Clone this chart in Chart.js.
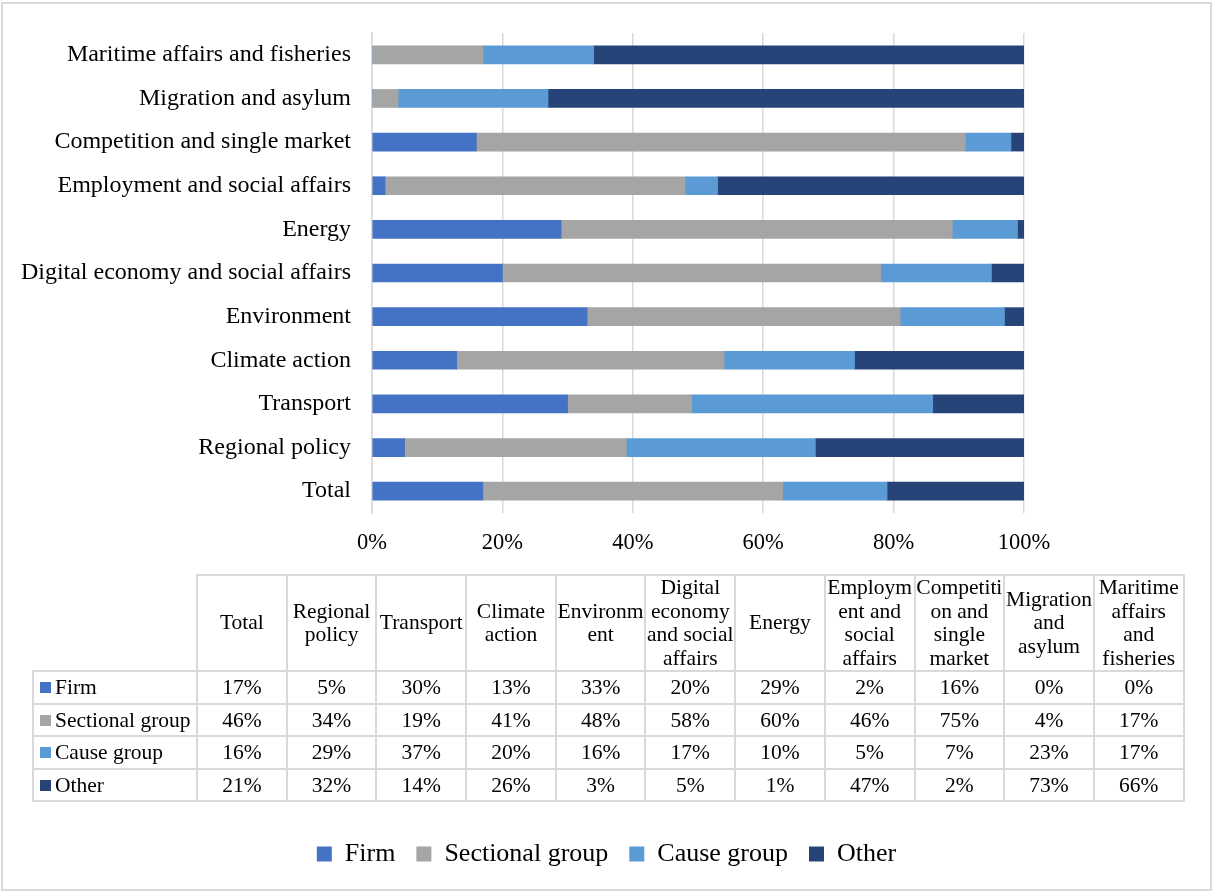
<!DOCTYPE html>
<html>
<head>
<meta charset="utf-8">
<title>Share of actor types by policy area</title>
<script src="https://cdn.jsdelivr.net/npm/chart.js@4.4.1/dist/chart.umd.min.js"></script>
<style>
  html, body { margin: 0; padding: 0; background: #fff; }
  #wrap { position: absolute; left: 0; top: 0; width: 1213px; height: 893px; }
  #frame { position: absolute; left: 1px; top: 2px; width: 1207px; height: 885px; border: 2px solid #d9d9d9; pointer-events: none; }
  #chart { position: absolute; left: 0; top: 0; }
  #tbl {
    position: absolute; left: 32px; top: 574px; width: 1151px;
    border-collapse: collapse; table-layout: fixed;
    font-family: "Liberation Serif", "Times New Roman", serif; font-size: 21.5px; color: #000;
  }
  #tbl th, #tbl td { border: 2px solid #d9d9d9; padding: 0; text-align: center; vertical-align: middle; font-weight: normal; }
  #tbl th { height: 94px; line-height: 23.5px; }
  #tbl td { height: 30.5px; line-height: 24px; }
  #tbl th.corner { border: none; }
  #tbl td.lab { text-align: left; padding-left: 6px; white-space: nowrap; }
  .sw { display: inline-block; width: 11px; height: 11px; margin-right: 4px; vertical-align: 1px; }
</style>
</head>
<body>
<div id="wrap">
  <canvas id="chart" width="1213" height="893"></canvas>
  <table id="tbl"></table>
  <div id="frame"></div>
</div>
<script>
// Policy areas, in table order (Total first; drawn bottom-up in the chart)
const categories = [
  'Total', 'Regional policy', 'Transport', 'Climate action', 'Environment',
  'Digital economy and social affairs', 'Energy', 'Employment and social affairs',
  'Competition and single market', 'Migration and asylum', 'Maritime affairs and fisheries'
];

// Column headings of the data table, wrapped as they are printed
const tableHeaders = [
  ['Total'], ['Regional', 'policy'], ['Transport'], ['Climate', 'action'],
  ['Environm', 'ent'], ['Digital', 'economy', 'and social', 'affairs'], ['Energy'],
  ['Employm', 'ent and', 'social', 'affairs'], ['Competiti', 'on and', 'single', 'market'],
  ['Migration', 'and', 'asylum'], ['Maritime', 'affairs', 'and', 'fisheries']
];

// Share of each actor type (%)
const firm       = [17,  5, 30, 13, 33, 20, 29,  2, 16,  0,  0];
const sectional  = [46, 34, 19, 41, 48, 58, 60, 46, 75,  4, 17];
const causeGroup = [16, 29, 37, 20, 16, 17, 10,  5,  7, 23, 17];
const other      = [21, 32, 14, 26,  3,  5,  1, 47,  2, 73, 66];

const seriesNames  = ['Firm', 'Sectional group', 'Cause group', 'Other'];
const seriesValues = [firm, sectional, causeGroup, other];
const seriesColors = ['#4472c4', '#a5a5a5', '#5b9bd5', '#264478'];

// Percentage ticks on the value axis
const xTicks = [0, 20, 40, 60, 80, 100];

const FONT = "'Liberation Serif', 'Times New Roman', serif";

// ---- data table ----
(function buildTable() {
  const tbl = document.getElementById('tbl');
  let html = '<colgroup><col style="width:164px">' +
    categories.map(() => '<col style="width:89.7px">').join('') + '</colgroup>';
  html += '<tr><th class="corner"></th>' +
    tableHeaders.map(lines => '<th>' + lines.join('<br>') + '</th>').join('') + '</tr>';
  seriesNames.forEach((name, i) => {
    html += '<tr><td class="lab"><span class="sw" style="background:' + seriesColors[i] + '"></span>' +
      name + '</td>' + seriesValues[i].map(v => '<td>' + v + '%</td>').join('') + '</tr>';
  });
  tbl.innerHTML = html;
})();

// ---- chart ----
new Chart(document.getElementById('chart'), {
  type: 'bar',
  data: {
    labels: categories,
    datasets: seriesNames.map((name, i) => ({
      label: name,
      data: seriesValues[i],
      backgroundColor: seriesColors[i],
      borderWidth: 0,
      barThickness: 18
    }))
  },
  options: {
    indexAxis: 'y',
    responsive: false,
    animation: false,
    layout: { padding: { top: 33, bottom: 16, left: 0, right: 0 } },
    plugins: {
      tooltip: { enabled: false },
      legend: {
        position: 'bottom',
        labels: {
          font: { family: FONT, size: 26 },
          color: '#000',
          boxWidth: 15,
          boxHeight: 15,
          padding: 21
        }
      }
    },
    scales: {
      x: {
        type: 'linear',
        stacked: true,
        min: 0,
        max: 100,
        afterBuildTicks: s => { s.ticks = xTicks.map(v => ({ value: v })); },
        grid: { color: '#d9d9d9', lineWidth: 1.5, drawTicks: false },
        border: { display: false },
        ticks: {
          font: { family: FONT, size: 22.5 },
          color: '#000',
          padding: 17,
          callback: v => v + '%'
        },
        afterFit: s => { s.height = 307; }
      },
      y: {
        type: 'category',
        stacked: true,
        reverse: true,
        grid: { display: false, drawTicks: false },
        border: { display: true, color: '#d9d9d9', width: 1.5 },
        ticks: {
          font: { family: FONT, size: 24 },
          color: '#000',
          padding: 21
        },
        afterFit: s => { s.width = 372; s.paddingTop = 0; s.paddingBottom = 0; }
      },
      yRight: {
        type: 'linear',
        position: 'right',
        grid: { display: false, drawTicks: false },
        border: { display: false },
        ticks: { display: false },
        afterFit: s => { s.width = 189; s.paddingTop = 0; s.paddingBottom = 0; }
      }
    }
  }
});
</script>
</body>
</html>
